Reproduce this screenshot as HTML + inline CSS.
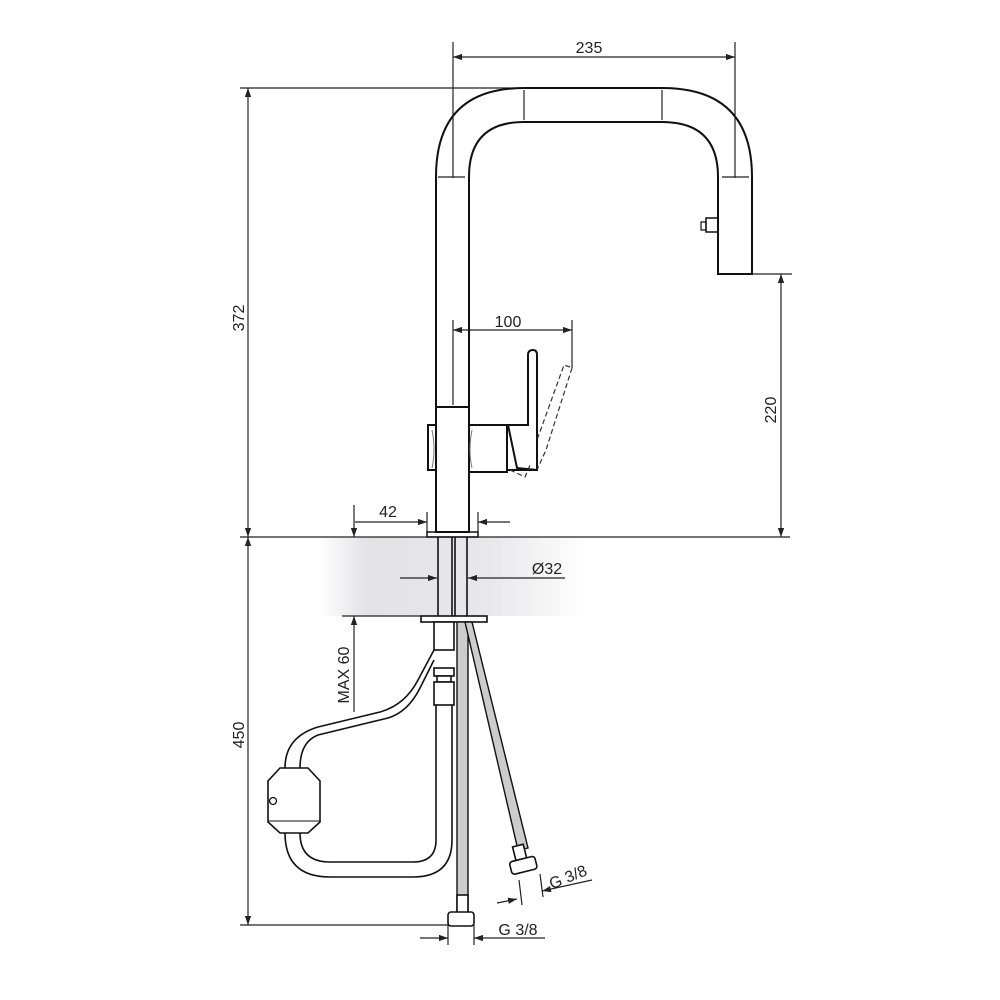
<!DOCTYPE html>
<html><head><meta charset="utf-8"><style>
html,body{margin:0;padding:0;background:#fff;}
svg{display:block;}
text{font-family:"Liberation Sans",sans-serif;font-size:16px;fill:#222;}
</style></head><body>
<svg width="1000" height="1000" viewBox="0 0 1000 1000" xmlns="http://www.w3.org/2000/svg">
<defs>
<linearGradient id="g" x1="0" x2="1" y1="0" y2="0">
<stop offset="0" stop-color="#fff"/><stop offset="0.18" stop-color="#e3e3e5"/><stop offset="0.65" stop-color="#e8e8ea"/><stop offset="1" stop-color="#fff"/>
</linearGradient>
<marker id="a" viewBox="0 0 10 10" refX="10" refY="5" markerWidth="9" markerHeight="9" orient="auto-start-reverse" markerUnits="userSpaceOnUse"><path d="M0,1.5 L10,5 L0,8.5z" fill="#222"/></marker>
</defs>
<rect x="318" y="537" width="268" height="79" fill="url(#g)"/>
<g stroke="#222" stroke-width="1.2" fill="none">
<line x1="240" y1="88" x2="520" y2="88"/>
<line x1="240" y1="537" x2="790" y2="537"/>
<line x1="240" y1="925" x2="455" y2="925"/>
<line x1="248" y1="88" x2="248" y2="537" marker-start="url(#a)" marker-end="url(#a)"/>
<line x1="248" y1="537" x2="248" y2="925" marker-start="url(#a)" marker-end="url(#a)"/>
<line x1="453" y1="42" x2="453" y2="178"/>
<line x1="735" y1="42" x2="735" y2="178"/>
<line x1="453" y1="57" x2="735" y2="57" marker-start="url(#a)" marker-end="url(#a)"/>
<line x1="438" y1="177" x2="465" y2="177"/>
<line x1="722" y1="177" x2="749" y2="177"/>
<line x1="524" y1="90" x2="524" y2="120"/>
<line x1="662" y1="90" x2="662" y2="120"/>
<line x1="718" y1="274" x2="792" y2="274"/>
<line x1="781" y1="274" x2="781" y2="537" marker-start="url(#a)" marker-end="url(#a)"/>
<line x1="453" y1="330" x2="572" y2="330" marker-start="url(#a)" marker-end="url(#a)"/>
<line x1="453" y1="320" x2="453" y2="405"/>
<line x1="572" y1="320" x2="572" y2="368"/>
<line x1="355" y1="522" x2="427" y2="522" marker-end="url(#a)"/>
<line x1="510" y1="522" x2="478" y2="522" marker-end="url(#a)"/>
<line x1="427" y1="512" x2="427" y2="532"/>
<line x1="478" y1="512" x2="478" y2="532"/>
<line x1="400" y1="578" x2="437" y2="578" marker-end="url(#a)"/>
<line x1="565" y1="578" x2="468" y2="578" marker-end="url(#a)"/>
<line x1="342" y1="616" x2="421" y2="616"/>
<line x1="354" y1="505" x2="354" y2="537" marker-end="url(#a)"/>
<line x1="354" y1="712" x2="354" y2="616" marker-end="url(#a)"/>
<line x1="420" y1="938" x2="448" y2="938" marker-end="url(#a)"/>
<line x1="545" y1="938" x2="474" y2="938" marker-end="url(#a)"/>
<line x1="448" y1="925" x2="448" y2="945"/>
<line x1="474" y1="925" x2="474" y2="945"/>
<line x1="497" y1="903" x2="517" y2="899" marker-end="url(#a)"/>
<line x1="592" y1="880" x2="542" y2="891" marker-end="url(#a)"/>
<line x1="519" y1="880" x2="522" y2="905"/>
<line x1="540" y1="874" x2="543" y2="897"/>
</g>
<g stroke="#111" stroke-width="2" fill="none">
<path d="M436,407 L436,177 Q436,88 524,88 L662,88 Q752,88 752,177 L752,274 L718,274 L718,177 Q718,122 662,122 L524,122 Q469,122 469,177 L469,407"/>
<path d="M718,218 L706,218 L706,232 L718,232" stroke-width="1.5"/>
<path d="M701,222 h5 v8 h-5z" stroke-width="1.2"/>
<rect x="436" y="407" width="33" height="125"/>
<rect x="427" y="532" width="51" height="5" stroke-width="1.5"/>
<path d="M436,425 L428,425 L428,470 L436,470"/>
<path d="M469,425 L507,425 L507,472 L469,472"/>
<path d="M507,425 L528,425 L528,355 Q528,350 533,350 Q537,350 537,355 L537,470 L507,470" />
<path d="M508,425 L517,468 L537,470"/>
</g>
<g stroke="#333" stroke-width="1.2" fill="none" stroke-dasharray="5,3">
<path d="M570,367 L564,365 L537,440 M572,368 L546,450 L537,470 M510,470 L525,477 L530,465"/>
</g>
<g stroke="#777" stroke-width="1" fill="none">
<path d="M432,430 q4,20 0,38 M472,430 q-4,20 0,38"/>
</g>
<g stroke="#111" stroke-width="1.6" fill="none">
<line x1="438" y1="537" x2="438" y2="616"/>
<line x1="452" y1="537" x2="452" y2="616"/>
<line x1="455" y1="537" x2="455" y2="616"/>
<line x1="467" y1="537" x2="467" y2="616"/>
<rect x="421" y="616" width="66" height="6"/>
</g>
<rect x="457" y="622" width="11" height="290" fill="#ccc" stroke="#111" stroke-width="1.4"/>
<path d="M465,622 L472,622 L528,848 L518,850 Z" fill="#ccc" stroke="#111" stroke-width="1.4"/>
<g stroke="#111" stroke-width="1.6" fill="#fff">
<rect x="434" y="622" width="20" height="28"/>
<rect x="434" y="668" width="20" height="8"/>
<rect x="437" y="676" width="14" height="6"/>
<rect x="434" y="682" width="20" height="23"/>
<path d="M434,650 L418,680 Q405,705 380,712 L318,727 Q285,737 285,768" fill="none"/>
<path d="M434,660 L420,688 Q408,712 388,718 L318,735 Q300,742 300,768" fill="none"/>
<path d="M285,833 Q285,877 330,877 L413,877 Q452,877 452,840 L452,705" fill="none"/>
<path d="M300,833 Q300,862 330,862 L413,862 Q436,862 436,840 L436,705" fill="none"/>
<path d="M280,768 L308,768 L320,781 L320,822 L308,833 L280,833 L268,822 L268,781 Z"/>
<line x1="268" y1="821" x2="320" y2="821" stroke-width="1"/>
<circle cx="273" cy="801" r="3.5" stroke-width="1.3"/>
<rect x="457" y="895" width="11" height="18"/>
<rect x="448" y="912" width="26" height="14" rx="3"/>
<g transform="rotate(-14 522 860)">
<rect x="516" y="845" width="11" height="14"/>
<rect x="509" y="859" width="26" height="13" rx="3"/>
</g>
</g>
<text x="589" y="53" text-anchor="middle">235</text>
<text x="508" y="327" text-anchor="middle">100</text>
<text x="388" y="517" text-anchor="middle">42</text>
<text x="547" y="574" text-anchor="middle">Ø32</text>
<text x="518" y="935" text-anchor="middle">G 3/8</text>
<text transform="translate(570 882) rotate(-22)" text-anchor="middle">G 3/8</text>
<text transform="translate(244 318) rotate(-90)" text-anchor="middle">372</text>
<text transform="translate(244 735) rotate(-90)" text-anchor="middle">450</text>
<text transform="translate(776 410) rotate(-90)" text-anchor="middle">220</text>
<text transform="translate(349 675) rotate(-90)" text-anchor="middle">MAX 60</text>
</svg>
</body></html>
